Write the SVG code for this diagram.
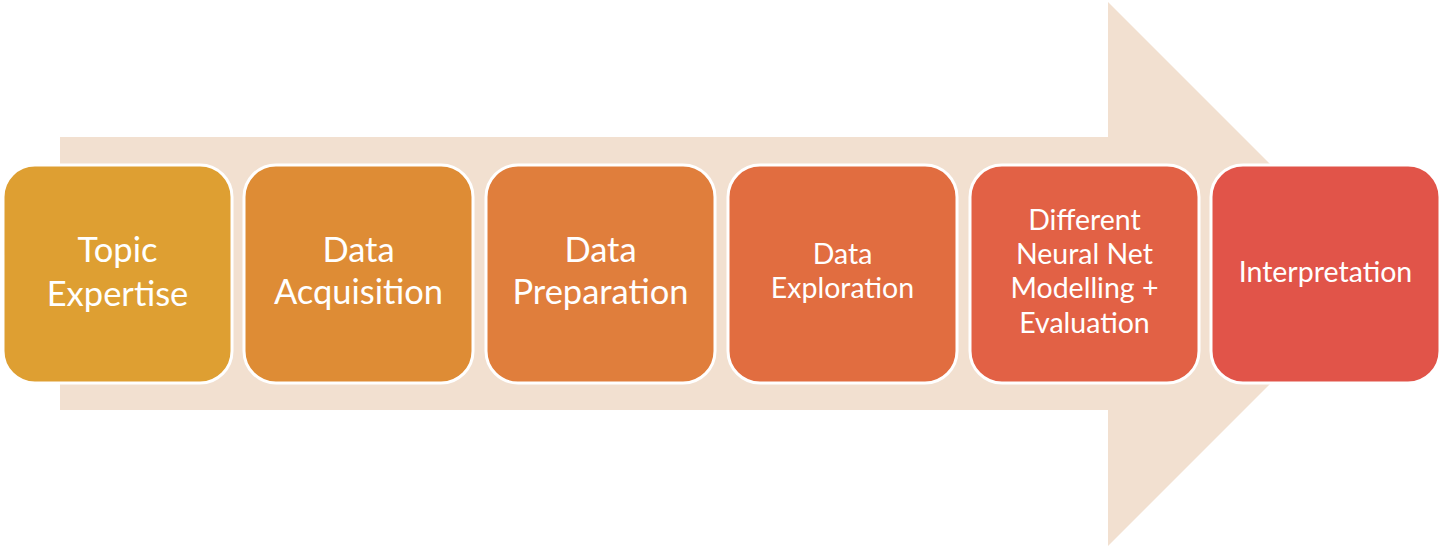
<svg xmlns="http://www.w3.org/2000/svg" width="1443" height="548" viewBox="0 0 1443 548">
<style>
.box{stroke:#fff;stroke-width:3}
.t{font-family:Lato,"Open Sans",sans-serif;fill:#fff;text-anchor:middle}
.big{font-size:34.5px}
.sm{font-size:28.5px}
</style>
<rect width="1443" height="548" fill="#fff"/>
<g id="arrow">
<polygon points="60,137 1108,137 1108,2 1380,274 1108,546 1108,410 60,410" fill="#F2E0D0"/>
</g>
<g id="connectors"></g>
<g id="n1"><rect class="box" x="3" y="165" width="229" height="218" rx="32" fill="#DE9F32"/><text class="t big" x="117.5" y="262">Topic</text><text class="t big" x="117.5" y="306">Expertise</text></g>
<g id="n2"><rect class="box" x="244" y="165" width="229" height="218" rx="32" fill="#DE8C35"/><text class="t big" x="358.5" y="262">Data</text><text class="t big" x="358.5" y="304">Acquisition</text></g>
<g id="n3"><rect class="box" x="486" y="165" width="229" height="218" rx="32" fill="#E07E3C"/><text class="t big" x="600.5" y="262">Data</text><text class="t big" x="600.5" y="304">Preparation</text></g>
<g id="n4"><rect class="box" x="728" y="165" width="229" height="218" rx="32" fill="#E16D40"/><text class="t sm" x="842.5" y="264">Data</text><text class="t sm" x="842.5" y="298">Exploration</text></g>
<g id="n5"><rect class="box" x="970" y="165" width="229" height="218" rx="32" fill="#E26145"/><text class="t sm" x="1084.5" y="230">Different</text><text class="t sm" x="1084.5" y="264">Neural Net</text><text class="t sm" x="1084.5" y="298">Modelling +</text><text class="t sm" x="1084.5" y="333">Evaluation</text></g>
<g id="n6"><rect class="box" x="1211" y="165" width="229" height="218" rx="32" fill="#E15449"/><text class="t sm" x="1325.5" y="282">Interpretation</text></g>
</svg>
